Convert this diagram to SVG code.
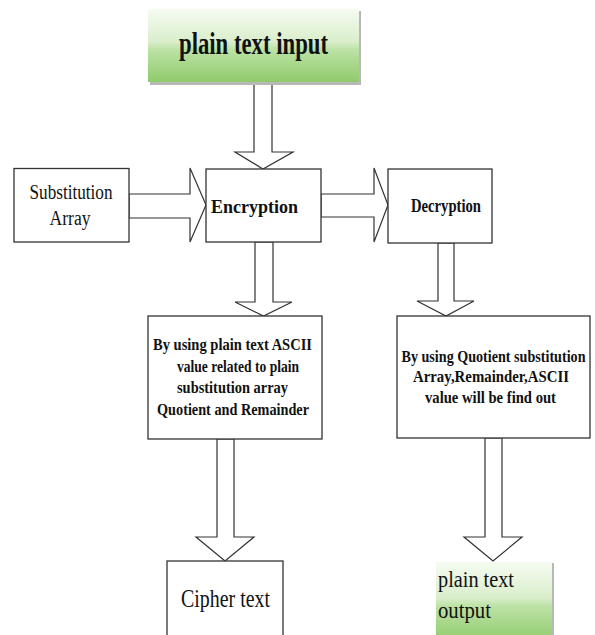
<svg xmlns="http://www.w3.org/2000/svg" width="595" height="635" viewBox="0 0 595 635">
  <defs>
    <linearGradient id="greenFill" x1="0" y1="0" x2="0" y2="1">
      <stop offset="0" stop-color="#f6fbf2"/>
      <stop offset="0.45" stop-color="#d9eecb"/>
      <stop offset="0.55" stop-color="#bde2a6"/>
      <stop offset="1" stop-color="#8fcb6b"/>
    </linearGradient>
    <style>
      .box { fill: #ffffff; stroke: #333333; stroke-width: 1.3; }
      .green { fill: url(#greenFill); stroke: none; }
      .shadow { fill: #b8b8b8; }
      .arrow { fill: #ffffff; stroke: #333333; stroke-width: 1.2; stroke-linejoin: miter; }
      .serif { font-family: "Liberation Serif", "Times New Roman", serif; fill: #111111; }
      .bold { font-weight: bold; }
    </style>
  </defs>

  <rect width="595" height="635" fill="#ffffff"/>

  <!-- block arrows between the stages -->
  <g id="connectors">
    <!-- plain text input -> Encryption -->
    <polygon class="arrow" points="254,82 272,82 272,152 293,152 263,169 235,152 254,152"/>
    <!-- Substitution Array -> Encryption -->
    <polygon class="arrow" points="129,194 190,194 190,168 206,205 190,242 190,218 129,218"/>
    <!-- Encryption -> Decryption -->
    <polygon class="arrow" points="321,194 374,194 374,168 388,205 374,242 374,217 321,217"/>
    <!-- Encryption -> quotient/remainder step -->
    <polygon class="arrow" points="255,242 273,242 273,302 292,302 263.5,316 235,302 255,302"/>
    <!-- Decryption -> ASCII recovery step -->
    <polygon class="arrow" points="438,243 454,243 454,301 474,301 446,316 417,301 438,301"/>
    <!-- quotient/remainder step -> Cipher text -->
    <polygon class="arrow" points="217,439 234,439 234,537 254,537 225,561 196,537 217,537"/>
    <!-- ASCII recovery step -> plain text output -->
    <polygon class="arrow" points="485,438 502,438 502,537 522,537 493,561 464,537 485,537"/>
  </g>

  <g id="plain-text-input">
    <rect class="shadow" x="150" y="11" width="211" height="74"/>
    <rect class="green" x="148" y="9" width="211" height="73"/>
    <text class="serif bold" x="179" y="54" font-size="31" textLength="149" lengthAdjust="spacingAndGlyphs">plain text input</text>
  </g>

  <g id="substitution-array">
    <rect class="box" x="14" y="168.5" width="115" height="73.5"/>
    <text class="serif" x="71" y="199" font-size="20" text-anchor="middle" textLength="83" lengthAdjust="spacingAndGlyphs">Substitution</text>
    <text class="serif" x="70" y="225" font-size="20" text-anchor="middle" textLength="41" lengthAdjust="spacingAndGlyphs">Array</text>
  </g>

  <g id="encryption">
    <rect class="box" x="206" y="169" width="115" height="73"/>
    <text class="serif bold" x="211" y="213" font-size="19" textLength="87" lengthAdjust="spacingAndGlyphs">Encryption</text>
  </g>

  <g id="decryption">
    <rect class="box" x="388" y="169" width="104" height="74"/>
    <text class="serif bold" x="411" y="212" font-size="18" textLength="70" lengthAdjust="spacingAndGlyphs">Decryption</text>
  </g>

  <g id="quotient-remainder">
    <rect class="box" x="148" y="316" width="174" height="123"/>
    <g class="serif bold" font-size="17" text-anchor="middle">
      <text x="232.5" y="350" textLength="159" lengthAdjust="spacingAndGlyphs">By using plain text ASCII</text>
      <text x="238" y="372" textLength="122" lengthAdjust="spacingAndGlyphs">value related to plain</text>
      <text x="232.5" y="393" textLength="111" lengthAdjust="spacingAndGlyphs">substitution array</text>
      <text x="233" y="415" textLength="152" lengthAdjust="spacingAndGlyphs">Quotient and Remainder</text>
    </g>
  </g>

  <g id="ascii-recovery">
    <rect class="box" x="397" y="316" width="193" height="122"/>
    <g class="serif bold" font-size="16.5" text-anchor="middle">
      <text transform="translate(493.5,362) scale(0.8,1)" x="0" y="0" textLength="230" lengthAdjust="spacingAndGlyphs">By using Quotient substitution</text>
      <text x="491" y="382" textLength="156" lengthAdjust="spacingAndGlyphs">Array,Remainder,ASCII</text>
      <text x="490.5" y="403" textLength="131" lengthAdjust="spacingAndGlyphs">value will be find out</text>
    </g>
  </g>

  <g id="cipher-text">
    <rect class="box" x="167" y="561" width="116" height="80"/>
    <text class="serif" x="181" y="607" font-size="26" textLength="89" lengthAdjust="spacingAndGlyphs">Cipher text</text>
  </g>

  <g id="plain-text-output">
    <rect class="shadow" x="438" y="563" width="116" height="80"/>
    <rect class="green" x="436" y="562" width="116" height="80"/>
    <text class="serif" x="438" y="587" font-size="24" textLength="76" lengthAdjust="spacingAndGlyphs">plain text</text>
    <text class="serif" x="438" y="618" font-size="24" textLength="53" lengthAdjust="spacingAndGlyphs">output</text>
  </g>
</svg>
